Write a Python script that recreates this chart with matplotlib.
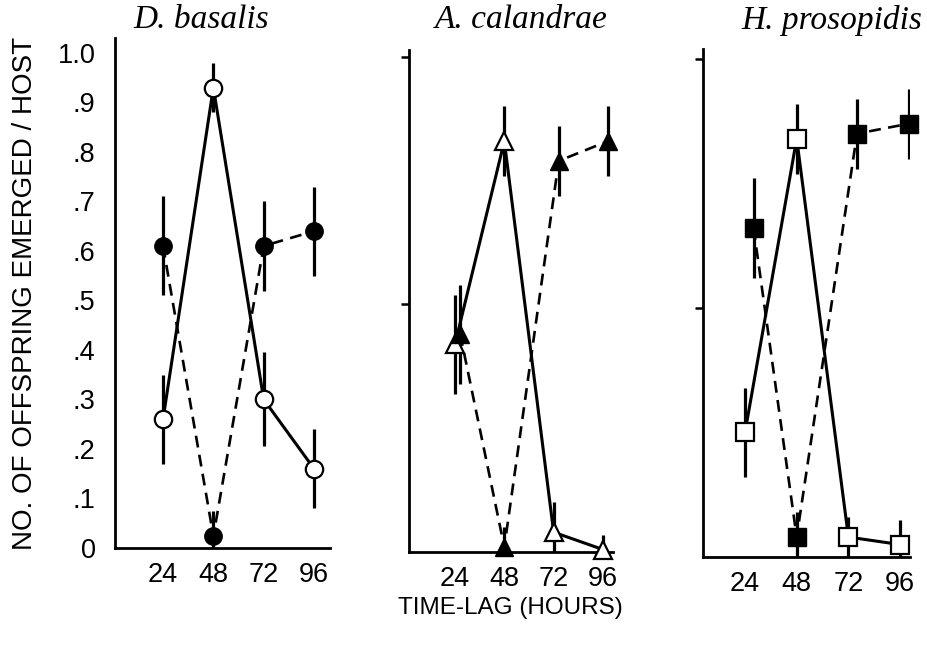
import matplotlib.pyplot as plt
import numpy as np

hours = [24, 48, 72, 96]

species = ['D. basalis', 'A. calandrae', 'H. prosopidis']
markers = ['o', '^', 's']

# open symbols, solid line
open_vals = [
    [0.26, 0.93, 0.30, 0.16],
    [0.42, 0.83, 0.04, 0.005],
    [0.25, 0.84, 0.04, 0.025],
]
open_err = [
    [0.09, 0.05, 0.095, 0.08],
    [0.10, 0.07, 0.06, 0.03],
    [0.09, 0.07, 0.04, 0.05],
]

# filled symbols, dashed line
filled_vals = [
    [0.61, 0.024, 0.61, 0.64],
    [0.44, 0.01, 0.79, 0.83],
    [0.66, 0.04, 0.85, 0.87],
]
filled_err = [
    [0.10, 0.05, 0.09, 0.09],
    [0.10, 0.04, 0.07, 0.07],
    [0.10, 0.05, 0.07, 0.07],
]

ytick_vals = [0, .1, .2, .3, .4, .5, .6, .7, .8, .9, 1.0]
ytick_labels = ['0', '.1', '.2', '.3', '.4', '.5', '.6', '.7', '.8', '.9', '1.0']

W, H = 927, 655
# axes boxes in pixels: left, right, top, bottom
boxes = [(115, 330, 38, 548), (409, 613, 50, 552), (703, 910, 49, 557)]
xlims = [(1.1, 103.6), (1.6, 100.9), (4.5, 100.6)]
ytops = [1.03, 1.014, 1.02]
dodge = [0, 2.5, 4]
title_x = [201, 521, 832]

plt.rcParams['font.family'] = ['Liberation Sans', 'DejaVu Sans']

fig = plt.figure(figsize=(W / 100, H / 100), dpi=100)

for i in range(3):
    l, r, t, b = boxes[i]
    ax = fig.add_axes([l / W, 1 - b / H, (r - l) / W, (b - t) / H])
    x = np.array(hours, dtype=float)
    xf = x + np.array([1, 0, 1, 1]) * dodge[i]

    ax.plot(x, open_vals[i], '-', color='black', lw=2.2, zorder=2)
    ax.plot(xf, filled_vals[i], color='black', lw=1.9, ls=(0, (4.5, 2.8)), zorder=2)
    ax.errorbar(x, open_vals[i], yerr=open_err[i], fmt='none', ecolor='black',
                elinewidth=2.3, capsize=0, zorder=3)
    ax.errorbar(xf, filled_vals[i], yerr=filled_err[i], fmt='none', ecolor='black',
                elinewidth=2.3, capsize=0, zorder=3)
    ax.plot(x, open_vals[i], markers[i], ls='none', mfc='white', mec='black',
            mew=1.6, ms=12.5, zorder=4, clip_on=False)
    ax.plot(xf, filled_vals[i], markers[i], ls='none', mfc='black', mec='black',
            ms=12.5, zorder=4, clip_on=False)

    ax.set_xlim(*xlims[i])
    ax.set_ylim(0, ytops[i])
    for s in ['top', 'right']:
        ax.spines[s].set_visible(False)
    for s in ['left', 'bottom']:
        ax.spines[s].set_linewidth(2)

    ax.set_xticks(hours)
    ax.set_xticklabels([str(h) for h in hours], fontsize=19.5)
    ax.tick_params(axis='x', length=0, pad=10)

    if i == 0:
        ax.set_yticks(ytick_vals)
        ax.set_yticklabels(ytick_labels, fontsize=19.5)
        ax.tick_params(axis='y', length=0, pad=14)
        ax.set_yticks([0.5, 1.0], minor=True)
        ax.tick_params(axis='y', which='minor', length=6, width=1.8, direction='out')
    else:
        ax.set_yticks([0.5, 1.0])
        ax.set_yticklabels([])
        ax.tick_params(axis='y', length=6, width=1.8, direction='out')

    fig.text(title_x[i] / W, 1 - 20 / H, species[i], ha='center', va='center',
             fontsize=24, style='italic', family='Liberation Serif')

fig.text(510 / W, 1 - 608 / H, 'TIME-LAG (HOURS)', ha='center', va='center', fontsize=17.5)
fig.text(25 / W, 1 - 293 / H, 'NO. OF OFFSPRING EMERGED / HOST', ha='center', va='center',
         rotation=90, fontsize=20)

plt.savefig('out.png', dpi=100)
plt.close()
